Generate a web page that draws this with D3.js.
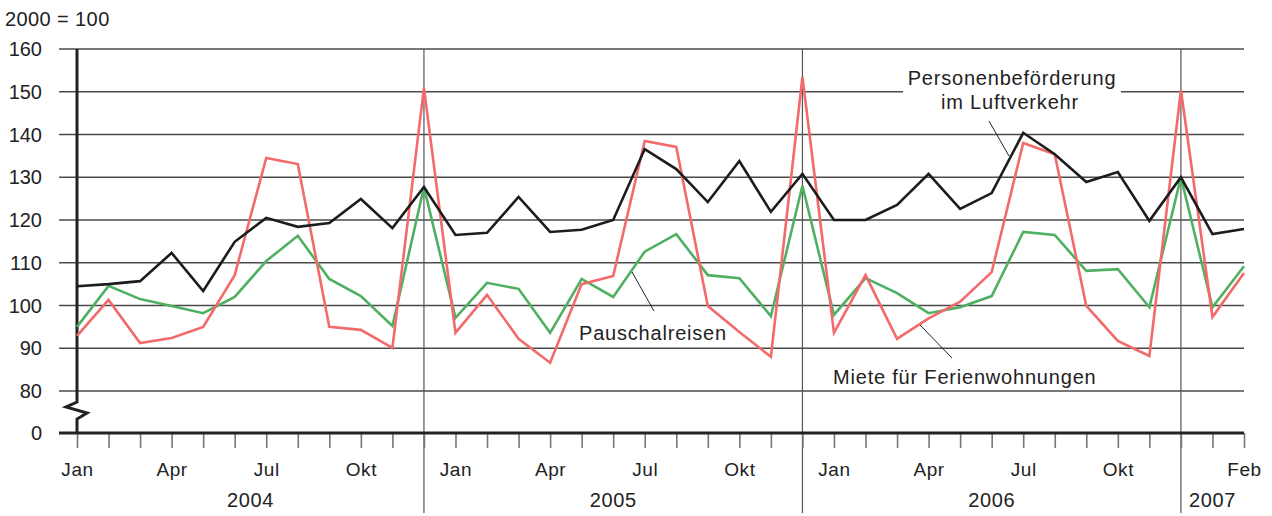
<!DOCTYPE html>
<html>
<head>
<meta charset="utf-8">
<script src="https://cdn.jsdelivr.net/npm/d3@7"></script>
<style>
  body { margin: 0; background: #fff; }
  svg text { font-family: "Liberation Sans", Arial, sans-serif; fill: #222; }
</style>
</head>
<body>
<svg id="chart" width="1272" height="516"></svg>
<script>
// months Jan 2004 .. Feb 2007
const monthNames = ['Jan', 'Feb', 'Mär', 'Apr', 'Mai', 'Jun', 'Jul', 'Aug', 'Sep', 'Okt', 'Nov', 'Dez'];
const years = [2004, 2005, 2006, 2007];
const shownMonths = ['Jan', 'Apr', 'Jul', 'Okt'];
const yTicks = [0, 80, 90, 100, 110, 120, 130, 140, 150, 160];

const luftverkehr = [
  104.5, 105, 105.7, 112.3, 103.4, 114.9, 120.5, 118.4, 119.3, 124.9, 118.1, 127.7,
  116.5, 117, 125.4, 117.2, 117.7, 120, 136.6, 131.9, 124.2, 133.8, 121.9, 130.8,
  120, 120, 123.5, 130.8, 122.6, 126.3, 140.4, 135.4, 128.9, 131.2, 119.8, 130,
  116.7, 117.9
];
const ferienwohnungen = [
  92.9, 101.3, 91.2, 92.4, 95, 107.1, 134.5, 133.1, 95, 94.3, 90.1, 150.9,
  93.6, 102.5, 92.2, 86.6, 105, 106.9, 138.5, 137.1, 99.9, 93.8, 88, 153.5,
  93.6, 107.1, 92.2, 97, 100.9, 107.8, 138, 135.4, 99.9, 91.7, 88.2, 150.4,
  97.3, 107.6
];
const pauschalreisen = [
  95, 104.6, 101.5, 99.9, 98.2, 102, 110.4, 116.3, 106.2, 102.2, 95.2, 127.7,
  97.1, 105.3, 103.9, 93.6, 106.2, 102, 112.6, 116.7, 107.1, 106.4, 97.5, 128,
  97.8, 106.4, 102.9, 98.2, 99.6, 102.2, 117.2, 116.5, 108.1, 108.5, 99.6, 130,
  99.6, 109.2
];

const months = luftverkehr.map((d, i) => ({
  i: i,
  name: monthNames[i % 12],
  year: years[0] + Math.floor(i / 12)
}));
const lastIdx = months.length - 1;

const svg = d3.select('#chart');
const plotL = 77, plotR = 1244, plotT = 49, plotB = 433;

const x = d3.scaleLinear().domain([0, lastIdx]).range([plotL, plotR]);
// broken axis: 0 sits one step below 80
const y = d3.scaleLinear().domain([0, 80, 160]).range([plotB, 391, plotT]);

// gridlines
const grid = svg.append('g').classed('grid', true);
grid.selectAll('line')
  .data(yTicks.filter(d => d > 0))
  .join('line')
  .attr('x1', 59).attr('x2', plotR)
  .attr('y1', d => y(d)).attr('y2', d => y(d))
  .attr('stroke', '#4a4a4a')
  .attr('stroke-width', 1.4);

// y labels
svg.append('g').selectAll('text')
  .data(yTicks)
  .join('text')
  .attr('x', 42)
  .attr('y', d => y(d))
  .attr('dy', '0.35em')
  .attr('text-anchor', 'end')
  .style('font-size', '20px')
  .text(d => d);

svg.append('text')
  .attr('x', 5).attr('y', 26)
  .style('font-size', '20px')
  .style('letter-spacing', '0.4px')
  .text('2000 = 100');

// year dividers at each December
const decs = months.filter(d => d.name === 'Dez');
svg.append('g').selectAll('line')
  .data(decs)
  .join('line')
  .attr('x1', d => x(d.i)).attr('x2', d => x(d.i))
  .attr('y1', plotT).attr('y2', 513)
  .attr('stroke', '#555')
  .attr('stroke-width', 1.2);

// x axis ticks: Jan/Apr/Jul/Okt, except the last year which only shows its final month
const showLabel = i => i === lastIdx ||
  (months[i].year !== years[years.length - 1] && shownMonths.includes(months[i].name));
const xAxis = d3.axisBottom(x)
  .tickValues(months.map(d => d.i))
  .tickSize(15)
  .tickFormat(i => showLabel(i) ? months[i].name : '');
const gx = svg.append('g')
  .attr('transform', `translate(0,${plotB})`)
  .call(xAxis);
gx.select('.domain').remove();
gx.selectAll('.tick line').attr('stroke', '#777').attr('stroke-width', 1.6);
gx.selectAll('.tick text')
  .attr('y', 30)
  .attr('dy', '0.71em')
  .style('font-size', '19px')
  .style('letter-spacing', '0.6px')
  .style('font-family', '"Liberation Sans", Arial, sans-serif')
  .attr('fill', '#222');

// base line at 0
svg.append('line')
  .attr('x1', 59).attr('x2', plotR)
  .attr('y1', plotB).attr('y2', plotB)
  .attr('stroke', '#222')
  .attr('stroke-width', 3);

// year labels centred on their span
const yearSpans = years.map(yr => {
  const ms = months.filter(d => d.year === yr);
  const start = yr === years[0] ? 0 : ms[0].i - 1;
  const end = ms[ms.length - 1].i;
  return {yr, mid: (x(start) + x(end)) / 2};
});
svg.append('g').selectAll('text')
  .data(yearSpans)
  .join('text')
  .attr('x', d => d.mid)
  .attr('y', 507)
  .attr('text-anchor', 'middle')
  .style('font-size', '20px')
  .style('letter-spacing', '0.6px')
  .text(d => d.yr);

// left axis with break
const brk = d3.line()([
  [plotL, plotT], [plotL, 402], [66, 407], [87, 413], [plotL, 419], [plotL, plotB]
]);
svg.append('path')
  .attr('d', brk)
  .attr('fill', 'none')
  .attr('stroke', '#222')
  .attr('stroke-width', 3);

// series
const line = d3.line().x((d, i) => x(i)).y(d => y(d));
const series = [
  {name: 'pauschal', values: pauschalreisen, color: '#4fb062'},
  {name: 'ferien', values: ferienwohnungen, color: '#f26a6a'},
  {name: 'luft', values: luftverkehr, color: '#1c1c1c'}
];
svg.append('g').selectAll('path')
  .data(series)
  .join('path')
  .attr('d', d => line(d.values))
  .attr('fill', 'none')
  .attr('stroke', d => d.color)
  .attr('stroke-width', 2.6)
  .attr('stroke-linejoin', 'miter');

// labels with leaders
const labels = svg.append('g').classed('labels', true);
labels.append('rect')
  .attr('x', 903).attr('y', 62).attr('width', 218).attr('height', 50)
  .attr('fill', '#fff');
const labelStyle = sel => sel.style('font-size', '20px').style('letter-spacing', '0.8px');
labels.append('text')
  .attr('x', 1012).attr('y', 85)
  .attr('text-anchor', 'middle')
  .call(labelStyle)
  .text('Personenbeförderung');
labels.append('text')
  .attr('x', 1010).attr('y', 109)
  .attr('text-anchor', 'middle')
  .call(labelStyle)
  .text('im Luftverkehr');
labels.append('text')
  .attr('x', 579).attr('y', 340)
  .call(labelStyle)
  .text('Pauschalreisen');
labels.append('text')
  .attr('x', 833).attr('y', 384)
  .call(labelStyle)
  .text('Miete für Ferienwohnungen');

const leaders = [
  [[989, 121], [1009, 156]],
  [[632, 272], [654, 311]],
  [[920, 325], [952, 358]]
];
labels.selectAll('line')
  .data(leaders)
  .join('line')
  .attr('x1', d => d[0][0]).attr('y1', d => d[0][1])
  .attr('x2', d => d[1][0]).attr('y2', d => d[1][1])
  .attr('stroke', '#222')
  .attr('stroke-width', 1);
</script>
</body>
</html>
